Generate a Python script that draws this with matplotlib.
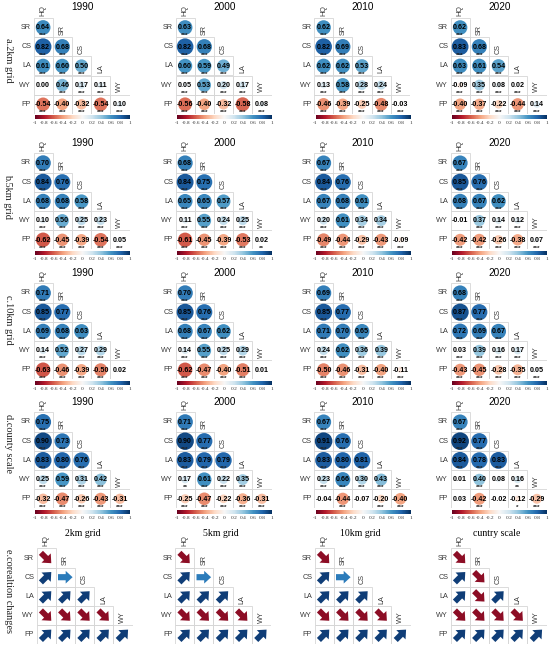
import matplotlib
matplotlib.use('Agg')
import matplotlib.pyplot as plt
import matplotlib.patches as mpatches
import numpy as np
from matplotlib.colors import Normalize
from matplotlib.cm import ScalarMappable

# ---------------- data ----------------
row_vars = ['SR', 'CS', 'LA', 'WY', 'FP']
col_vars = ['HQ', 'SR', 'CS', 'LA', 'WY']
years = ['1990', '2000', '2010', '2020']
scale_labels = ['a.2km grid', 'b.5km grid', 'c.10km grid', 'd.county scale', 'e.corealtion changes']
change_titles = ['2km grid', '5km grid', '10km grid', 'cuntry scale']

# lower-triangle correlation coefficients (rows SR..FP, columns HQ..WY)
r_2km_1990 = [[0.64], [0.82, 0.68], [0.61, 0.60, 0.50], [0.00, 0.46, 0.17, 0.11], [-0.54, -0.40, -0.32, -0.54, 0.10]]
r_2km_2000 = [[0.63], [0.82, 0.68], [0.60, 0.59, 0.49], [0.05, 0.53, 0.20, 0.17], [-0.56, -0.40, -0.32, -0.58, 0.08]]
r_2km_2010 = [[0.62], [0.82, 0.69], [0.62, 0.62, 0.53], [0.13, 0.58, 0.28, 0.24], [-0.46, -0.39, -0.25, -0.48, -0.03]]
r_2km_2020 = [[0.62], [0.83, 0.68], [0.63, 0.61, 0.54], [-0.09, 0.35, 0.08, 0.02], [-0.40, -0.37, -0.22, -0.44, 0.14]]

r_5km_1990 = [[0.70], [0.84, 0.76], [0.68, 0.68, 0.58], [0.10, 0.50, 0.25, 0.23], [-0.62, -0.45, -0.39, -0.54, 0.05]]
r_5km_2000 = [[0.68], [0.84, 0.75], [0.65, 0.65, 0.57], [0.11, 0.55, 0.24, 0.25], [-0.61, -0.45, -0.39, -0.53, 0.02]]
r_5km_2010 = [[0.67], [0.84, 0.76], [0.67, 0.68, 0.61], [0.20, 0.61, 0.34, 0.34], [-0.49, -0.44, -0.29, -0.43, -0.09]]
r_5km_2020 = [[0.67], [0.85, 0.76], [0.68, 0.67, 0.62], [-0.01, 0.37, 0.14, 0.12], [-0.42, -0.42, -0.26, -0.38, 0.07]]

r_10km_1990 = [[0.71], [0.85, 0.77], [0.69, 0.68, 0.63], [0.14, 0.52, 0.27, 0.29], [-0.63, -0.46, -0.39, -0.50, 0.02]]
r_10km_2000 = [[0.70], [0.85, 0.76], [0.68, 0.67, 0.62], [0.14, 0.55, 0.25, 0.29], [-0.62, -0.47, -0.40, -0.51, 0.01]]
r_10km_2010 = [[0.69], [0.85, 0.77], [0.71, 0.70, 0.65], [0.24, 0.62, 0.36, 0.39], [-0.50, -0.46, -0.31, -0.40, -0.11]]
r_10km_2020 = [[0.68], [0.87, 0.77], [0.72, 0.69, 0.67], [0.03, 0.39, 0.16, 0.17], [-0.43, -0.45, -0.28, -0.35, 0.05]]

r_county_1990 = [[0.75], [0.90, 0.73], [0.83, 0.80, 0.76], [0.25, 0.59, 0.31, 0.42], [-0.32, -0.47, -0.26, -0.43, -0.31]]
r_county_2000 = [[0.71], [0.90, 0.77], [0.83, 0.79, 0.79], [0.17, 0.61, 0.22, 0.35], [-0.25, -0.47, -0.22, -0.36, -0.31]]
r_county_2010 = [[0.67], [0.91, 0.76], [0.83, 0.80, 0.81], [0.23, 0.66, 0.30, 0.43], [-0.04, -0.44, -0.07, -0.20, -0.40]]
r_county_2020 = [[0.67], [0.92, 0.77], [0.84, 0.78, 0.83], [0.01, 0.40, 0.08, 0.16], [0.03, -0.42, -0.02, -0.12, -0.29]]

# number of significance stars per cell (one digit per cell)
sig_2km_1990 = ['3', '33', '333', '0333', '33333']
sig_2km_2000 = ['3', '33', '333', '3333', '33333']
sig_2km_2010 = ['3', '33', '333', '3333', '33333']
sig_2km_2020 = ['3', '33', '333', '3333', '33333']
sig_5km_1990 = ['3', '33', '333', '3333', '33333']
sig_5km_2000 = ['3', '33', '333', '3333', '33332']
sig_5km_2010 = ['3', '33', '333', '3333', '33333']
sig_5km_2020 = ['3', '33', '333', '0333', '33333']
sig_10km_1990 = ['3', '33', '333', '3333', '33330']
sig_10km_2000 = ['3', '33', '333', '3333', '33330']
sig_10km_2010 = ['3', '33', '333', '3333', '33333']
sig_10km_2020 = ['3', '33', '333', '3333', '33333']
sig_county_1990 = ['3', '33', '333', '3333', '33333']
sig_county_2000 = ['3', '33', '333', '2333', '33333']
sig_county_2010 = ['3', '33', '333', '3333', '03033']
sig_county_2020 = ['3', '33', '333', '0302', '03013']

# direction of correlation change: u = increase, d = decrease, f = stable
change_2km = ['d', 'uf', 'uuu', 'dddd', 'uuuuu']
change_5km = ['d', 'uf', 'uuu', 'dddd', 'uuuuu']
change_10km = ['d', 'uf', 'uuu', 'dddd', 'uuuuu']
change_country = ['d', 'ud', 'udu', 'dddd', 'uuuuu']

corr_rows = [
    [r_2km_1990, r_2km_2000, r_2km_2010, r_2km_2020],
    [r_5km_1990, r_5km_2000, r_5km_2010, r_5km_2020],
    [r_10km_1990, r_10km_2000, r_10km_2010, r_10km_2020],
    [r_county_1990, r_county_2000, r_county_2010, r_county_2020],
]
sig_rows = [
    [sig_2km_1990, sig_2km_2000, sig_2km_2010, sig_2km_2020],
    [sig_5km_1990, sig_5km_2000, sig_5km_2010, sig_5km_2020],
    [sig_10km_1990, sig_10km_2000, sig_10km_2010, sig_10km_2020],
    [sig_county_1990, sig_county_2000, sig_county_2010, sig_county_2020],
]
change_panels = [change_2km, change_5km, change_10km, change_country]

# ---------------- layout (pixels) ----------------
W, H = 550, 649
S = 19.2
grid_left = [33.5, 175.5, 314.0, 450.5]
grid_left_e = [36.5, 175.0, 314.5, 450.5]
sr_center = [27.5, 163.0, 293.0, 422.0, 558.0]
label_center = [60, 196, 320, 444, 591]

fig = plt.figure(figsize=(W / 100, H / 100), dpi=100)
fig.patch.set_facecolor('white')

cmap = plt.get_cmap('RdBu')
norm = Normalize(-1, 1)
SANS = 'Liberation Sans'
SERIF = 'Liberation Serif'
GRID_C = '#d6d6d6'
LAB_C = '#3a3a3a'


def make_axes(gl, sr_c):
    gt = sr_c - S / 2
    ax = fig.add_axes([gl / W, 1 - (gt + 5 * S) / H, 5 * S / W, 5 * S / H])
    ax.set_xlim(0, 5)
    ax.set_ylim(5, 0)
    ax.axis('off')
    return ax, gt


def draw_frame(ax):
    for i in range(5):
        for j in range(i + 1):
            ax.add_patch(mpatches.Rectangle((j, i), 1, 1, fill=False,
                                            edgecolor=GRID_C, lw=0.6, zorder=1))
        ax.text(-0.12, i + 0.5, row_vars[i], ha='right', va='center',
                fontsize=5.2, family=SANS, color=LAB_C)
    for j in range(5):
        ax.text(j + 0.5, j - 0.12, col_vars[j], ha='center', va='bottom',
                rotation=90, fontsize=5.2, family=SANS, color=LAB_C)


def tick_text(t):
    if t == 0:
        return '0'
    s = f'{abs(t):g}'
    return ('-' + s) if t < 0 else s


for r in range(4):
    for c in range(4):
        ax, gt = make_axes(grid_left[c], sr_center[r])
        vals = corr_rows[r][c]
        sigs = sig_rows[r][c]
        draw_frame(ax)
        for i in range(5):
            for j in range(i + 1):
                v = vals[i][j]
                if abs(v) > 0:
                    rad = 0.48 * np.sqrt(abs(v))
                    ax.add_patch(mpatches.Circle((j + 0.5, i + 0.5), rad,
                                                 facecolor=cmap(norm(v)),
                                                 edgecolor='none', zorder=2))
                ax.text(j + 0.5, i + 0.52, f'{v:.2f}', ha='center', va='center',
                        fontsize=5.1, family=SANS, fontweight='bold',
                        color='black', zorder=3)
                n = int(sigs[i][j])
                if n > 0:
                    ax.text(j + 0.5, i + 0.93, '*' * n, ha='center', va='center',
                            fontsize=4.6, family=SANS, fontweight='bold',
                            color='#222222', zorder=3)
        ax.text(2.55, 0.5 - 20 / S, years[c], ha='center', va='center',
                fontsize=7.2, family=SANS, color='black')
        # colour bar
        cax = fig.add_axes([(grid_left[c] + 1.5) / W,
                            1 - (gt + 5 * S + 5.5) / H, 95 / W, 4 / H])
        cb = fig.colorbar(ScalarMappable(norm=norm, cmap=cmap), cax=cax,
                          orientation='horizontal')
        cb.outline.set_visible(False)
        ticks = np.round(np.linspace(-1, 1, 11), 1)
        cb.set_ticks(ticks)
        cb.set_ticklabels([tick_text(t) for t in ticks])
        cax.tick_params(length=0, pad=1.2, labelsize=3.9, labelcolor='#333333')
        for lab in cax.get_xticklabels():
            lab.set_family(SERIF)

# correlation change panels
ARROW_C = {'u': '#0f3d77', 'd': '#8c0d25', 'f': '#2b7bba'}
for c in range(4):
    ax, gt = make_axes(grid_left_e[c], sr_center[4])
    draw_frame(ax)
    ch = change_panels[c]
    for i in range(5):
        for j in range(i + 1):
            k = ch[i][j]
            cx, cy = j + 0.5, i + 0.5
            if k == 'f':
                ax.add_patch(mpatches.FancyArrow(cx - 0.38, cy, 0.76, 0,
                                                 width=0.32, head_width=0.66,
                                                 head_length=0.36,
                                                 length_includes_head=True,
                                                 color=ARROW_C[k], lw=0, zorder=2))
            else:
                d = 0.27
                dy = -1 if k == 'u' else 1
                ax.add_patch(mpatches.FancyArrow(cx - d, cy - dy * d, 2 * d, 2 * dy * d,
                                                 width=0.3, head_width=0.68,
                                                 head_length=0.38,
                                                 length_includes_head=True,
                                                 color=ARROW_C[k], lw=0, zorder=2))
    ax.text(2.4, 0.5 - 25 / S, change_titles[c], ha='center', va='center',
            fontsize=7, family=SERIF, color='black')

for r in range(5):
    fig.text(8 / W, 1 - label_center[r] / H, scale_labels[r], rotation=270,
             ha='center', va='center', fontsize=7.4, family=SERIF, color='#222222')

fig.savefig('out.png', dpi=100, facecolor='white')
